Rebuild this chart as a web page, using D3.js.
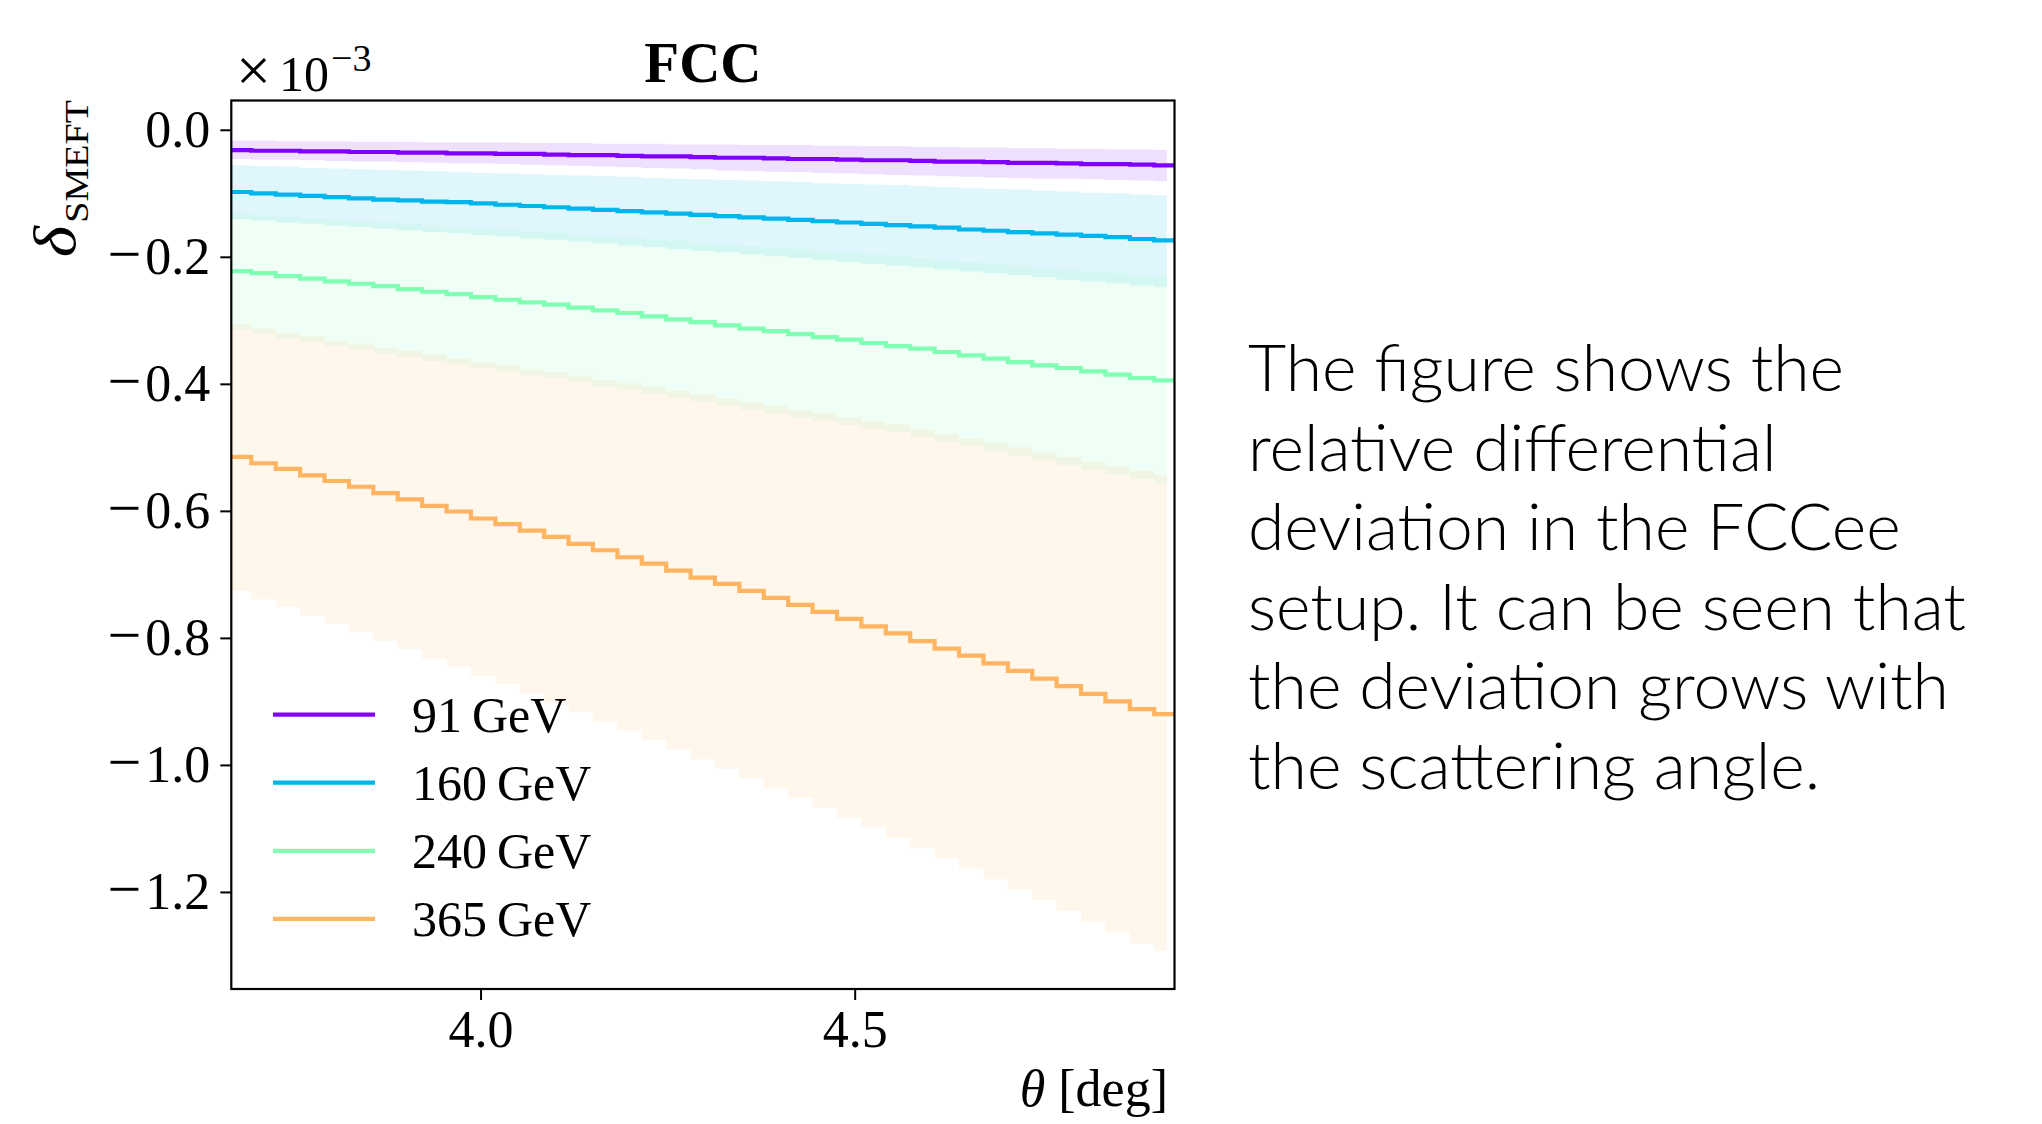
<!DOCTYPE html>
<html>
<head>
<meta charset="utf-8">
<script src="https://cdn.jsdelivr.net/npm/d3@7"></script>
<style>
  html, body { margin: 0; padding: 0; background: #fff; }
  svg { display: block; }
</style>
</head>
<body>
<div id="chart"></div>
<script>
// bin edges in theta [deg], last edge is the axis limit
var thetaEdges = [3.6669, 3.6936, 3.7263, 3.7589, 3.7915, 3.8241, 3.8567, 3.8893, 3.9219, 3.9546,
  3.9872, 4.0198, 4.0524, 4.0850, 4.1176, 4.1502, 4.1829, 4.2155, 4.2481, 4.2807,
  4.3133, 4.3459, 4.3785, 4.4111, 4.4438, 4.4764, 4.5090, 4.5416, 4.5742, 4.6068,
  4.6394, 4.6721, 4.7047, 4.7373, 4.7699, 4.8025, 4.8351, 4.8677, 4.9003, 4.9274];
var bandEnd = 4.9173;

var energies = ['91 GeV', '160 GeV', '240 GeV', '365 GeV'];
var colors = ['#8000ff', '#00b5eb', '#80ffb4', '#ffb462'];

// delta_SMEFT values (x 1e-3), one per bin
var d91 = [-0.032, -0.033, -0.033, -0.034, -0.034, -0.035, -0.035, -0.036, -0.036, -0.037,
  -0.037, -0.038, -0.038, -0.039, -0.040, -0.040, -0.041, -0.042, -0.042, -0.043,
  -0.044, -0.044, -0.045, -0.046, -0.046, -0.047, -0.048, -0.048, -0.049, -0.050,
  -0.050, -0.051, -0.052, -0.052, -0.053, -0.054, -0.054, -0.055, -0.056];
var d91Up = [-0.017, -0.017, -0.018, -0.018, -0.018, -0.019, -0.019, -0.019, -0.020, -0.020,
  -0.020, -0.020, -0.021, -0.021, -0.021, -0.022, -0.022, -0.022, -0.023, -0.023,
  -0.023, -0.024, -0.024, -0.024, -0.025, -0.025, -0.026, -0.026, -0.027, -0.027,
  -0.028, -0.028, -0.029, -0.029, -0.030, -0.030, -0.031, -0.031, -0.032];
var d91Lo = [-0.046, -0.047, -0.047, -0.048, -0.049, -0.050, -0.050, -0.051, -0.052, -0.053,
  -0.053, -0.054, -0.055, -0.056, -0.057, -0.058, -0.059, -0.060, -0.061, -0.062,
  -0.064, -0.065, -0.066, -0.067, -0.068, -0.069, -0.070, -0.071, -0.072, -0.073,
  -0.074, -0.075, -0.076, -0.077, -0.077, -0.078, -0.079, -0.080, -0.081];

var d160 = [-0.098, -0.100, -0.102, -0.104, -0.106, -0.108, -0.110, -0.111, -0.113, -0.114,
  -0.116, -0.118, -0.120, -0.122, -0.124, -0.126, -0.128, -0.130, -0.132, -0.134,
  -0.136, -0.138, -0.140, -0.142, -0.144, -0.146, -0.148, -0.150, -0.152, -0.154,
  -0.157, -0.159, -0.161, -0.163, -0.165, -0.167, -0.169, -0.172, -0.174];
var d160Up = [-0.056, -0.057, -0.058, -0.060, -0.061, -0.062, -0.063, -0.064, -0.065, -0.066,
  -0.068, -0.069, -0.070, -0.071, -0.072, -0.073, -0.074, -0.076, -0.077, -0.078,
  -0.079, -0.080, -0.081, -0.082, -0.084, -0.085, -0.086, -0.087, -0.089, -0.090,
  -0.092, -0.093, -0.094, -0.096, -0.097, -0.099, -0.100, -0.102, -0.103];
var d160Lo = [-0.141, -0.143, -0.146, -0.148, -0.151, -0.153, -0.156, -0.158, -0.161, -0.163,
  -0.166, -0.168, -0.171, -0.173, -0.176, -0.179, -0.182, -0.185, -0.188, -0.191,
  -0.193, -0.196, -0.199, -0.202, -0.205, -0.208, -0.211, -0.214, -0.217, -0.220,
  -0.223, -0.226, -0.229, -0.232, -0.236, -0.239, -0.242, -0.245, -0.248];

var d240 = [-0.2225, -0.2256, -0.2303, -0.2345, -0.2387, -0.2424, -0.2461, -0.2508, -0.2550, -0.2587,
  -0.2634, -0.2676, -0.2718, -0.2754, -0.2801, -0.2843, -0.2885, -0.2938, -0.2985, -0.3027,
  -0.3079, -0.3132, -0.3169, -0.3216, -0.3263, -0.3305, -0.3357, -0.3405, -0.3447, -0.3499,
  -0.3552, -0.3604, -0.3657, -0.3709, -0.3751, -0.3803, -0.3856, -0.3908, -0.3945];
var d240Up = [-0.132, -0.134, -0.137, -0.139, -0.141, -0.144, -0.146, -0.148, -0.151, -0.153,
  -0.155, -0.157, -0.160, -0.162, -0.165, -0.167, -0.170, -0.172, -0.175, -0.178,
  -0.180, -0.183, -0.186, -0.188, -0.191, -0.193, -0.196, -0.199, -0.202, -0.205,
  -0.208, -0.211, -0.214, -0.217, -0.220, -0.223, -0.226, -0.229, -0.232];
var d240Lo = [-0.315, -0.322, -0.329, -0.334, -0.341, -0.346, -0.353, -0.358, -0.364, -0.370,
  -0.376, -0.381, -0.387, -0.391, -0.398, -0.405, -0.410, -0.416, -0.422, -0.428,
  -0.434, -0.441, -0.447, -0.453, -0.458, -0.465, -0.471, -0.476, -0.484, -0.491,
  -0.499, -0.506, -0.513, -0.521, -0.528, -0.536, -0.543, -0.550, -0.557];

var d365 = [-0.515, -0.525, -0.534, -0.544, -0.553, -0.562, -0.572, -0.582, -0.592, -0.601,
  -0.612, -0.621, -0.631, -0.641, -0.652, -0.662, -0.673, -0.683, -0.694, -0.705,
  -0.715, -0.726, -0.737, -0.748, -0.759, -0.770, -0.782, -0.793, -0.805, -0.817,
  -0.828, -0.840, -0.852, -0.864, -0.876, -0.888, -0.900, -0.912, -0.920];
var d365Up = [-0.306, -0.313, -0.320, -0.325, -0.332, -0.337, -0.343, -0.348, -0.354, -0.360,
  -0.366, -0.371, -0.377, -0.381, -0.387, -0.394, -0.399, -0.405, -0.411, -0.417,
  -0.423, -0.429, -0.435, -0.441, -0.446, -0.453, -0.459, -0.464, -0.472, -0.479,
  -0.486, -0.493, -0.500, -0.508, -0.515, -0.523, -0.530, -0.537, -0.544];
var d365Lo = [-0.726, -0.739, -0.751, -0.765, -0.778, -0.791, -0.805, -0.818, -0.833, -0.846,
  -0.860, -0.873, -0.888, -0.902, -0.917, -0.932, -0.946, -0.961, -0.976, -0.991,
  -1.006, -1.021, -1.037, -1.052, -1.067, -1.083, -1.098, -1.115, -1.131, -1.147,
  -1.163, -1.180, -1.196, -1.213, -1.230, -1.247, -1.264, -1.281, -1.293];

var centrals = [d91, d160, d240, d365];
var uppers = [d91Up, d160Up, d240Up, d365Up];
var lowers = [d91Lo, d160Lo, d240Lo, d365Lo];

var yTicks = [0, -0.2, -0.4, -0.6, -0.8, -1.0, -1.2];
var xTicks = [4.0, 4.5];

var description = [
  'The figure shows the',
  'relative differential',
  'deviation in the FCCee',
  'setup. It can be seen that',
  'the deviation grows with',
  'the scattering angle.'
];

// Create SVG Element
var chart_width = 2042;
var chart_height = 1124;
var plot = { left: 231.3, right: 1174.5, top: 100.5, bottom: 989 };
var serif = '"Liberation Serif", "DejaVu Serif", serif';

var svg = d3.select('#chart')
  .append('svg')
  .attr('width', chart_width)
  .attr('height', chart_height);

// Scales
var xScale = d3.scaleLinear()
  .domain([3.6669, 4.9274])
  .range([plot.left, plot.right]);

var yScale = d3.scaleLinear()
  .domain([-1.3528, 0.0461])
  .range([plot.bottom, plot.top]);

svg.append('clipPath')
  .attr('id', 'plot-clip')
  .append('rect')
  .attr('x', plot.left)
  .attr('y', plot.top)
  .attr('width', plot.right - plot.left)
  .attr('height', plot.bottom - plot.top);

var plotArea = svg.append('g').attr('clip-path', 'url(#plot-clip)');

// step points: value of bin i holds from edge i to edge i+1
function stepPoints(vals, lastEdge) {
  var pts = vals.map(function (v, i) {
    return { x: thetaEdges[i], y: v };
  });
  pts.push({ x: lastEdge, y: vals[vals.length - 1] });
  return pts;
}

var band = d3.area()
  .curve(d3.curveStepAfter)
  .x(function (d) { return xScale(d.x); })
  .y0(function (d) { return yScale(d.lo); })
  .y1(function (d) { return yScale(d.hi); });

var line = d3.line()
  .curve(d3.curveStepAfter)
  .x(function (d) { return xScale(d.x); })
  .y(function (d) { return yScale(d.y); });

energies.forEach(function (e, k) {
  var lo = stepPoints(lowers[k], bandEnd);
  var hi = stepPoints(uppers[k], bandEnd);
  var pts = lo.map(function (p, i) {
    return { x: p.x, lo: p.y, hi: hi[i].y };
  });
  plotArea.append('path')
    .attr('d', band(pts))
    .attr('fill', colors[k])
    .attr('fill-opacity', 0.12)
    .attr('stroke', 'none');
});

energies.forEach(function (e, k) {
  plotArea.append('path')
    .attr('d', line(stepPoints(centrals[k], thetaEdges[thetaEdges.length - 1])))
    .attr('fill', 'none')
    .attr('stroke', colors[k])
    .attr('stroke-width', 4.2)
    .attr('stroke-linejoin', 'miter');
});

// Axes
var yAxis = svg.append('g')
  .attr('transform', 'translate(' + plot.left + ',0)')
  .call(d3.axisLeft(yScale).tickValues(yTicks).tickFormat(d3.format('.1f')).tickSize(11).tickPadding(10));

var xAxis = svg.append('g')
  .attr('transform', 'translate(0,' + plot.bottom + ')')
  .call(d3.axisBottom(xScale).tickValues(xTicks).tickFormat(d3.format('.1f')).tickSize(11).tickPadding(10));

[yAxis, xAxis].forEach(function (ax) {
  ax.select('.domain').remove();
  ax.selectAll('.tick line').attr('stroke', '#000').attr('stroke-width', 2);
  ax.selectAll('.tick text')
    .attr('fill', '#000')
    .style('font-family', serif)
    .style('font-size', '52px');
});

// wider math minus sign on negative labels
yAxis.selectAll('.tick text').each(function (d) {
  if (d >= 0) return;
  var t = d3.select(this);
  t.text(null);
  t.append('tspan').text('\u2212').style('font-size', '60px');
  t.append('tspan').text(d3.format('.1f')(-d)).attr('dx', 4);
});

svg.append('rect')
  .attr('x', plot.left)
  .attr('y', plot.top)
  .attr('width', plot.right - plot.left)
  .attr('height', plot.bottom - plot.top)
  .attr('fill', 'none')
  .attr('stroke', '#000')
  .attr('stroke-width', 2.2);

// Title
svg.append('text')
  .text('FCC')
  .attr('x', (plot.left + plot.right) / 2)
  .attr('y', 82)
  .attr('text-anchor', 'middle')
  .style('font-family', serif)
  .style('font-weight', 'bold')
  .style('font-size', '57px');

// Offset text x10^-3
var offset = svg.append('text')
  .attr('x', 236)
  .attr('y', 91)
  .style('font-family', serif)
  .style('font-size', '50px');
offset.append('tspan').text('\u00d7').style('font-size', '62px');
offset.append('tspan').text('10').attr('dx', 8);
offset.append('tspan')
  .text('\u22123')
  .attr('dx', 2)
  .attr('dy', -20)
  .style('font-size', '38px');

// Y label
var ylab = svg.append('text')
  .attr('transform', 'translate(75,100) rotate(-90) scale(1.12,1)')
  .attr('text-anchor', 'end')
  .style('font-family', serif);
ylab.append('tspan')
  .text('\u03b4')
  .style('font-style', 'italic')
  .style('font-size', '60px');
ylab.append('tspan')
  .text('SMEFT')
  .attr('dx', 3)
  .attr('dy', 13)
  .style('font-size', '34px');

// X label
var xlab = svg.append('text')
  .attr('x', 1168)
  .attr('y', 1106)
  .attr('text-anchor', 'end')
  .style('font-family', serif)
  .style('font-size', '52px');
xlab.append('tspan').text('\u03b8').style('font-style', 'italic');
xlab.append('tspan').text(' [deg]');

// Legend
var legend = svg.append('g');
energies.forEach(function (e, k) {
  var rowY = 714.6 + k * 68.1;
  legend.append('line')
    .attr('x1', 273)
    .attr('x2', 375)
    .attr('y1', rowY)
    .attr('y2', rowY)
    .attr('stroke', colors[k])
    .attr('stroke-width', 4.2);
  legend.append('text')
    .text(e.replace(' ', '\u2009'))
    .attr('x', 412)
    .attr('y', rowY + 17.5)
    .style('font-family', serif)
    .style('font-size', '50px');
});

// Description on the right
var desc = svg.append('text')
  .attr('x', 1248)
  .attr('y', 391)
  .style('font-family', 'Lato, "Open Sans", sans-serif')
  .style('font-weight', 300)
  .style('font-size', '66px')
  .attr('fill', '#000');

desc.selectAll('tspan')
  .data(description)
  .enter()
  .append('tspan')
  .attr('x', 1248)
  .attr('dy', function (d, i) { return i === 0 ? 0 : 79.5; })
  .text(function (d) { return d; });
</script>
</body>
</html>
